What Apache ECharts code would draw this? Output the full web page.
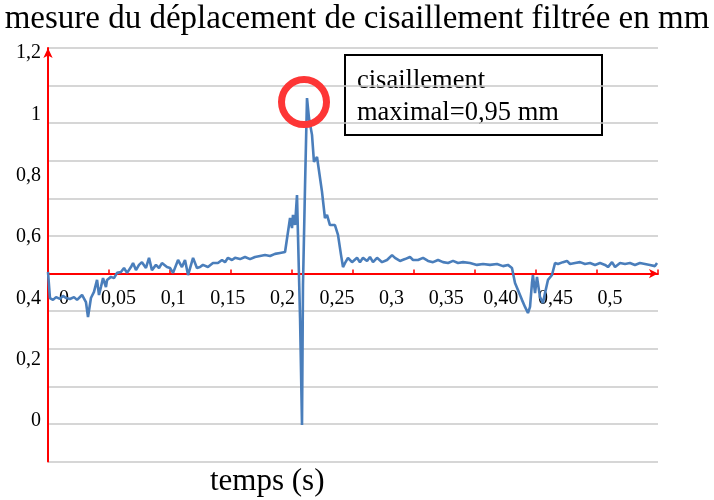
<!DOCTYPE html>
<html>
<head>
<meta charset="utf-8">
<script src="https://cdn.jsdelivr.net/npm/echarts@6/dist/echarts.min.js"></script>
<style>html,body{margin:0;padding:0;background:#fff}#c{width:714px;height:500px}</style>
</head>
<body>
<div id="c"></div>
<script>
// time (s)
const timeS = [0,0.0016,0.0041,0.0066,0.0098,0.0123,0.0148,0.0180,0.0213,0.0238,0.0254,0.0279,0.0311,0.0328,0.0352,0.0377,0.0402,0.0418,0.0434,0.0451,0.0475,0.0484,0.0516,0.0541,0.0566,0.0598,0.0623,0.0648,0.0680,0.0697,0.0721,0.0746,0.0770,0.0803,0.0828,0.0852,0.0885,0.0910,0.0934,0.0975,0.1000,0.1025,0.1066,0.1098,0.1123,0.1148,0.1189,0.1221,0.1246,0.1270,0.1311,0.1352,0.1393,0.1426,0.1451,0.1475,0.1508,0.1533,0.1574,0.1615,0.1656,0.1697,0.1738,0.1779,0.1820,0.1861,0.1902,0.1943,0.1959,0.1984,0.2000,0.2008,0.2025,0.2041,0.2049,0.2066,0.2082,0.2090,0.2107,0.2123,0.2139,0.2164,0.2180,0.2205,0.2221,0.2246,0.2270,0.2287,0.2311,0.2352,0.2377,0.2402,0.2418,0.2434,0.2459,0.2492,0.2533,0.2557,0.2582,0.2615,0.2639,0.2664,0.2697,0.2738,0.2779,0.2820,0.2844,0.2885,0.2926,0.2967,0.2992,0.3033,0.3074,0.3115,0.3156,0.3197,0.3238,0.3279,0.3320,0.3361,0.3402,0.3459,0.3516,0.3566,0.3623,0.3680,0.3730,0.3770,0.3803,0.3828,0.3852,0.3885,0.3910,0.3934,0.3951,0.3967,0.3975,0.3992,0.4008,0.4033,0.4057,0.4074,0.4098,0.4131,0.4156,0.4180,0.4221,0.4254,0.4279,0.4320,0.4361,0.4402,0.4443,0.4484,0.4525,0.4566,0.4590,0.4623,0.4648,0.4689,0.4730,0.4770,0.4811,0.4852,0.4893,0.4934,0.4975,0.4992];
// filtered shear displacement (mm)
const shearMm = [0.486,0.401,0.395,0.404,0.398,0.408,0.401,0.398,0.404,0.395,0.398,0.411,0.388,0.339,0.401,0.421,0.460,0.411,0.437,0.466,0.437,0.460,0.470,0.466,0.483,0.486,0.499,0.483,0.502,0.515,0.492,0.509,0.518,0.499,0.532,0.492,0.509,0.499,0.515,0.502,0.499,0.483,0.525,0.502,0.525,0.476,0.532,0.499,0.502,0.509,0.502,0.515,0.515,0.525,0.518,0.532,0.525,0.532,0.528,0.535,0.528,0.535,0.538,0.541,0.538,0.545,0.548,0.551,0.551,0.662,0.629,0.672,0.639,0.737,0.607,0.336,-0.013,0.443,0.770,1.053,0.988,0.933,0.845,0.861,0.858,0.747,0.662,0.672,0.639,0.639,0.607,0.541,0.502,0.515,0.532,0.518,0.532,0.518,0.532,0.522,0.535,0.518,0.532,0.518,0.525,0.541,0.532,0.522,0.528,0.535,0.525,0.525,0.532,0.522,0.518,0.525,0.518,0.515,0.522,0.515,0.518,0.515,0.509,0.512,0.509,0.512,0.505,0.509,0.499,0.450,0.427,0.395,0.372,0.352,0.372,0.450,0.476,0.417,0.470,0.404,0.385,0.417,0.460,0.476,0.515,0.512,0.518,0.522,0.512,0.515,0.518,0.512,0.515,0.509,0.515,0.509,0.502,0.518,0.502,0.515,0.512,0.515,0.509,0.515,0.512,0.509,0.505,0.515];
const xTickLabels = ['0','0,05','0,1','0,15','0,2','0,25','0,3','0,35','0,40','0,45','0,5'];
const yTickLabels = ['0','0,2','0,4','0,6','0,8','1','1,2'];
const titleText = 'mesure du déplacement de cisaillement filtrée en mm';
const xName = 'temps (s)';
const noteLines = ['cisaillement', 'maximal=0,95 mm'];

const FONT = "'Liberation Serif','Times New Roman',serif";
const RED = '#ff0000';
let peakI = 0;
shearMm.forEach((v, i) => { if (v > shearMm[peakI]) peakI = i; });

const chart = echarts.init(document.getElementById('c'), null, {renderer: 'canvas'});
chart.setOption({
  animation: false,
  backgroundColor: '#fff',
  grid: [
    {left: 48, top: 48, width: 610, height: 413.5},
    {left: 48, top: 53, width: 610, height: 368},
    {left: 64, top: 200, width: 546, height: 89}
  ],
  xAxis: [
    {gridIndex: 0, type: 'value', min: 0, max: 0.5, interval: 0.05,
     axisLine: {onZero: true, lineStyle: {color: RED, width: 2}, symbol: ['none', 'arrow'], symbolSize: [7, 9]},
     axisTick: {show: true, inside: true, length: 4, lineStyle: {color: RED, width: 1.5}},
     axisLabel: {show: false}, splitLine: {show: false}},
    {gridIndex: 1, type: 'value', min: 0, max: 0.5, show: false},
    {gridIndex: 2, type: 'category', data: xTickLabels, boundaryGap: false, position: 'bottom',
     axisLine: {show: false}, axisTick: {show: false},
     axisLabel: {show: true, margin: 0, color: '#000', fontSize: 20, fontFamily: FONT, interval: 0},
     splitLine: {show: false}}
  ],
  yAxis: [
    {gridIndex: 0, type: 'value', min: -0.5, max: 0.6, interval: 0.1,
     axisLine: {show: true, onZero: true, lineStyle: {color: RED, width: 2}, symbol: ['none', 'arrow'], symbolSize: [7, 10]},
     axisTick: {show: false}, axisLabel: {show: false},
     splitLine: {show: true, lineStyle: {color: '#c8c8c8', width: 1.5}}},
    {gridIndex: 1, type: 'value', min: 0, max: 1.2, interval: 0.2,
     axisLine: {show: false}, axisTick: {show: false}, splitLine: {show: false},
     axisLabel: {show: true, margin: 7, color: '#000', fontSize: 20, fontFamily: FONT,
       formatter: v => yTickLabels[Math.round(v / 0.2)]}},
    {gridIndex: 2, type: 'value', show: false}
  ],
  series: [{
    type: 'line', xAxisIndex: 1, yAxisIndex: 1, clip: false,
    data: timeS.map((t, i) => [t, shearMm[i]]),
    showSymbol: false, symbol: 'none', smooth: false,
    lineStyle: {color: '#4a7ebb', width: 2.6}, itemStyle: {color: '#4a7ebb'},
    markPoint: {
      silent: true,
      symbol: 'circle', symbolSize: 45, symbolOffset: [-3, 4],
      itemStyle: {color: 'rgba(0,0,0,0)', borderColor: '#fd3636', borderWidth: 7},
      label: {show: false},
      data: [{coord: [timeS[peakI], shearMm[peakI]]}]
    }
  }],
  graphic: [
    {type: 'text', left: 'center', top: 3, style: {text: titleText, fill: '#000', font: '33px ' + FONT}},
    {type: 'text', left: 210, top: 466, style: {text: xName, fill: '#000', font: '31px ' + FONT}},
    {type: 'rect', left: 344, top: 54, shape: {width: 257, height: 80}, style: {fill: '#fff', stroke: '#000', lineWidth: 2}},
    {type: 'text', left: 357, top: 68, style: {text: noteLines[0], fill: '#000', font: '26.5px ' + FONT}},
    {type: 'text', left: 357, top: 100, style: {text: noteLines[1], fill: '#000', font: '26.5px ' + FONT}}
  ]
});
</script>
</body>
</html>
